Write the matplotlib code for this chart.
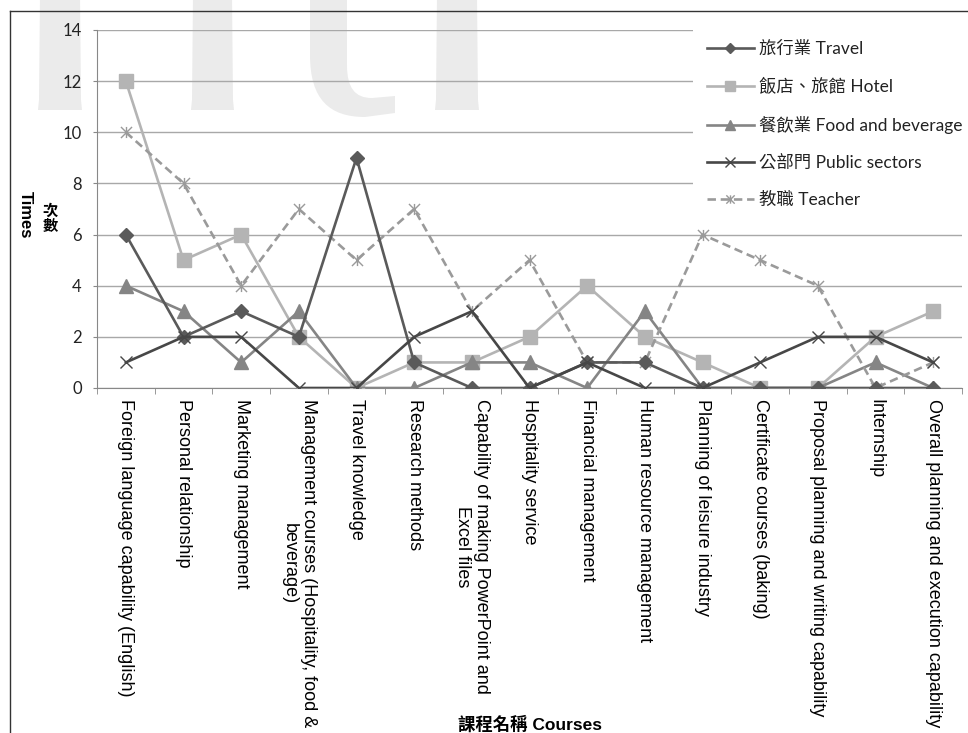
import matplotlib
matplotlib.use("Agg")
import matplotlib.pyplot as plt
from matplotlib.path import Path
from matplotlib.patches import PathPatch
from matplotlib.lines import Line2D

# fontes: latim + CJK tradicional
plt.rcParams['font.family'] = ['Lato', 'Noto Sans CJK TC', 'DejaVu Sans']

# categorias (cursos)
courses = [
    'Foreign language capability (English)',
    'Personal relationship',
    'Marketing management',
    'Management courses (Hospitality, food &\nbeverage)',
    'Travel knowledge',
    'Research methods',
    'Capability of making PowerPoint and\nExcel files',
    'Hospitality service',
    'Financial management',
    'Human resource management',
    'Planning of leisure industry',
    'Certificate courses (baking)',
    'Proposal planning and writing capability',
    'Internship',
    'Overall planning and execution capability',
]

# séries
travel = [6, 2, 3, 2, 9, 1, 0, 0, 1, 1, 0, 0, 0, 0, 0]
hotel = [12, 5, 6, 2, 0, 1, 1, 2, 4, 2, 1, 0, 0, 2, 3]
food = [4, 3, 1, 3, 0, 0, 1, 1, 0, 3, 0, 0, 0, 1, 0]
public = [1, 2, 2, 0, 0, 2, 3, 0, 1, 0, 0, 1, 2, 2, 1]
teacher = [10, 8, 4, 7, 5, 7, 3, 5, 1, 1, 6, 5, 4, 0, 1]

labels = ['旅行業 Travel', '飯店、旅館 Hotel', '餐飲業 Food and beverage',
          '公部門 Public sectors', '教職 Teacher']
y_ticks = [0, 2, 4, 6, 8, 10, 12, 14]

W, H = 968, 733


def px(x, y):
    # pixel (a partir do canto superior esquerdo) -> fração da figura
    return (x / W, 1 - y / H)


# marcador asterisco estilo Excel
asterisk = Path([(0, -1), (0, 1), (-1, -1), (1, 1), (-1, 1), (1, -1)],
                [Path.MOVETO, Path.LINETO, Path.MOVETO, Path.LINETO,
                 Path.MOVETO, Path.LINETO])

fig = plt.figure(figsize=(W / 100, H / 100), dpi=100)

# marca d'água (parte de baixo das letras, cortada no topo)
wm = '#ebebeb'
M, L, C4, CL = Path.MOVETO, Path.LINETO, Path.CURVE4, Path.CLOSEPOLY
for x0, x1 in [(40, 80), (193, 232), (437, 477)]:
    pts = [px(x0, -5), px(x1, -5), px(x1 + 1, 100), px(x1 + 2, 110),
           px(x0 - 2, 110), px(x0 - 1, 100), px(x0, -5)]
    fig.add_artist(PathPatch(Path(pts, [M, L, L, L, L, L, CL]), fc=wm, ec='none',
                             transform=fig.transFigure, zorder=-5))
c_pts = [(310, -5), (310, 55), (310, 100), (330, 117), (365, 117), (395, 113),
         (395, 96), (372, 98), (355, 98), (347, 88), (347, 65), (347, -5), (310, -5)]
c_codes = [M, L, C4, C4, C4, L, L, L, C4, C4, C4, L, CL]
fig.add_artist(PathPatch(Path([px(*p) for p in c_pts], c_codes), fc=wm, ec='none',
                         transform=fig.transFigure, zorder=-5))

ax = fig.add_axes([97 / W, 1 - 388 / H, 865 / W, 358 / H])
ax.set_facecolor('none')

x = list(range(len(courses)))
lw = 1.9
ax.plot(x, travel, color='#5a5a5a', lw=lw, marker='D', ms=7, label=labels[0], zorder=4)
ax.plot(x, hotel, color='#b4b4b4', lw=lw, marker='s', ms=10, label=labels[1], zorder=3)
ax.plot(x, food, color='#858585', lw=lw, marker='^', ms=10, label=labels[2], zorder=3)
ax.plot(x, public, color='#474747', lw=lw, marker='x', ms=9, mew=1.0, label=labels[3], zorder=4)
ax.plot(x, teacher, color='#9a9a9a', lw=lw, ls=(0, (3.2, 1.8)), marker=asterisk, ms=8,
        mew=1.0, label=labels[4], zorder=3)

ax.set_xlim(-0.5, len(courses) - 0.5)
ax.set_ylim(0, 14)
ax.set_yticks(y_ticks)
ax.grid(axis='y', color='#a8a8a8', lw=1.0, zorder=0)
ax.set_axisbelow(True)

ax.set_xticks(x)
ax.set_xticklabels(courses, rotation=-90, ha='center', va='top', multialignment='center',
                   family=['Liberation Sans'], fontsize=13)
ax.set_xticks([i - 0.5 for i in range(len(courses) + 1)], minor=True)
ax.tick_params(axis='x', which='major', length=0, pad=8)
ax.tick_params(axis='x', which='minor', length=4, color='#888888')
ax.tick_params(axis='y', length=3, color='#888888', pad=8, labelsize=12, labelcolor='#222222')

for s in ['top', 'right']:
    ax.spines[s].set_visible(False)
for s in ['left', 'bottom']:
    ax.spines[s].set_color('#888888')

# rótulos dos eixos
fig.text(*px(25, 215), 'Times', rotation=-90, ha='center', va='center',
         fontsize=12, fontweight='bold', family=['Liberation Sans'])
fig.text(*px(50, 218), '次\n數', ha='center', va='center', linespacing=0.95,
         fontsize=11, fontweight='bold', family=['Noto Sans CJK TC'])
fig.text(*px(530, 724), '課程名稱 Courses', ha='center', va='center',
         fontsize=12.5, fontweight='bold', family=['Liberation Sans', 'Noto Sans CJK TC'])

leg = ax.legend(loc='upper left', bbox_to_anchor=px(693, 27),
                bbox_transform=fig.transFigure, frameon=True, fancybox=False,
                facecolor='white', edgecolor='none', framealpha=1,
                fontsize=12.5, handlelength=2.7, handletextpad=0.3, markerscale=0.75,
                labelspacing=1.2, borderpad=0.8, borderaxespad=0)
for t in leg.get_texts():
    t.set_color('#222222')

# moldura cortada da figura original
fig.add_artist(Line2D([10 / W, 1], [1 - 11 / H] * 2, color='#333333', lw=1.0))
fig.add_artist(Line2D([10 / W] * 2, [0, 1 - 11 / H], color='#333333', lw=1.0))

fig.savefig('out.png', dpi=100)
